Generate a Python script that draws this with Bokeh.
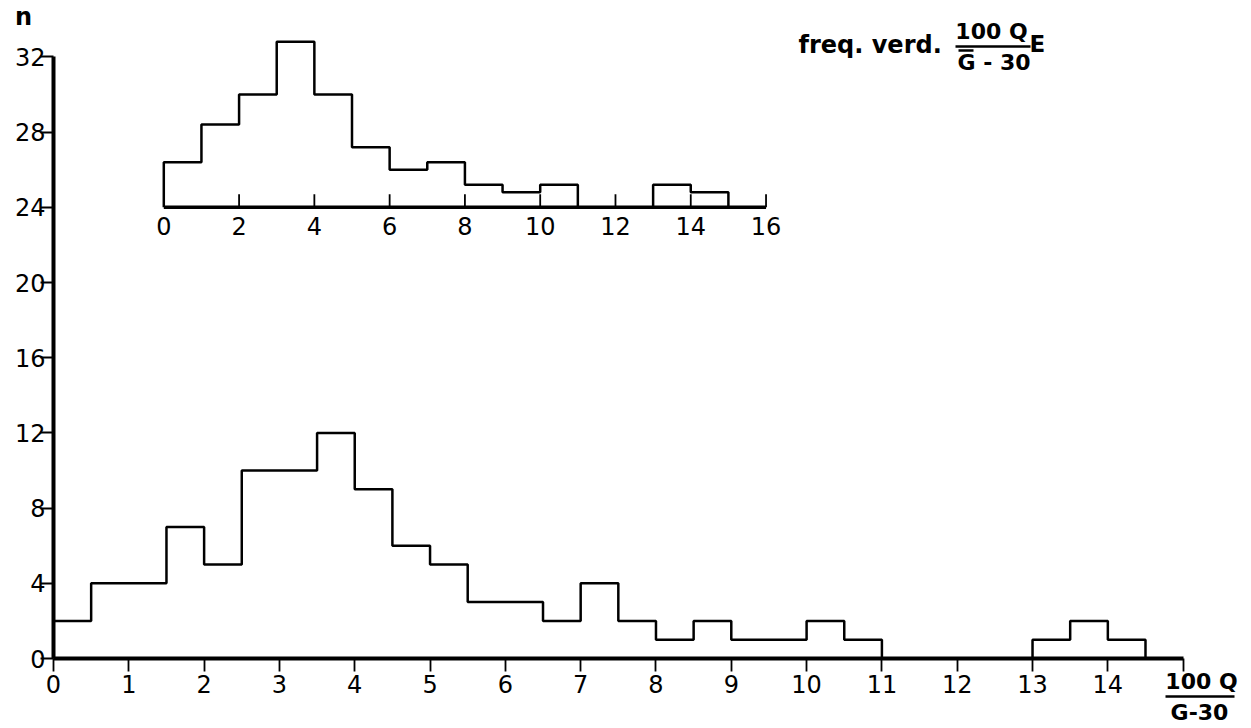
from bokeh.plotting import figure
from bokeh.models import Range1d, FixedTicker, LinearAxis
from bokeh.embed import file_html
from bokeh.resources import INLINE
from bokeh.core.properties import value

# ---- data ----
bin_width = 0.5
main_counts = [2, 4, 4, 7, 5, 10, 10, 12, 9, 6, 5, 3, 3, 2, 4, 2, 1, 2, 1, 1, 2, 1,
               0, 0, 0, 0, 1, 2, 1]
main_xticks = list(range(0, 16))
main_yticks = [0, 4, 8, 12, 16, 20, 24, 28, 32]

inset_base = 24
inset_bin_width = 1
inset_tops = [26.4, 28.4, 30.0, 32.8, 30.0, 27.2, 26.0, 26.4, 25.2, 24.8, 25.2,
              24.0, 24.0, 25.2, 24.8]
inset_xticks = [0, 2, 4, 6, 8, 10, 12, 14, 16]
inset_tick_labels = [str(t) for t in inset_xticks]

FONT = "DejaVu Sans"

# px geometry helpers
LEFT, BOTTOM, TOP, RIGHT = 53, 658, 10, 1241
PX_X = 75.31
PX_Y = 18.8
W, H = 1251, 728

def dx(px):
    return (px - LEFT) / PX_X

def dy(py):
    return (BOTTOM - py) / PX_Y

p = figure(width=W, height=H, output_backend="svg", toolbar_location=None,
           x_range=Range1d(0, (RIGHT - LEFT) / PX_X),
           y_range=Range1d(0, (BOTTOM - TOP) / PX_Y),
           min_border_left=LEFT, min_border_right=W - RIGHT,
           min_border_top=TOP, min_border_bottom=H - BOTTOM,
           x_axis_location=None, y_axis_location=None)
p.outline_line_color = None
p.grid.visible = False
p.background_fill_color = "white"
p.border_fill_color = "white"

# inset range
IN_PX0, IN_PX_UNIT = 163.3, 37.64
p.extra_x_ranges = {"inset": Range1d(-(IN_PX0 - LEFT) / IN_PX_UNIT,
                                     (RIGHT - IN_PX0) / IN_PX_UNIT)}

# main axes
xaxis = LinearAxis(ticker=FixedTicker(ticks=main_xticks), bounds=(0, 15))
xaxis.major_label_overrides = {15: ""}
yaxis = LinearAxis(ticker=FixedTicker(ticks=main_yticks), bounds=(0, 32))
for ax in (xaxis, yaxis):
    ax.axis_line_width = 4
    ax.axis_line_color = "black"
    ax.major_tick_in = 0
    ax.major_tick_out = 13
    ax.major_tick_line_width = 1.8
    ax.major_tick_line_color = "black"
    ax.minor_tick_line_color = None
    ax.major_label_text_font = FONT
    ax.major_label_text_font_size = "24px"
    ax.major_label_text_color = "black"
xaxis.major_label_standoff = 3
yaxis.major_label_standoff = -5
p.add_layout(xaxis, "below")
p.add_layout(yaxis, "left")

# main histogram outline (step)
edges = [i * bin_width for i in range(len(main_counts) + 1)]
sx = [0] + edges
sy = [0] + main_counts + [0]
p.step(x=sx, y=sy, mode="after", line_color="black", line_width=2.5)

# inset histogram
in_edges = [i * inset_bin_width for i in range(len(inset_tops) + 1)]
isx = [0] + in_edges
isy = [inset_base] + inset_tops + [inset_base]
p.step(x=isx, y=isy, mode="after", line_color="black", line_width=2.5,
       x_range_name="inset")

# inset axis line and ticks
p.segment(x0=[inset_xticks[0]], y0=[inset_base], x1=[inset_xticks[-1]], y1=[inset_base],
          line_color="black", line_width=3.5, x_range_name="inset")
tick_len = 13 / PX_Y
p.segment(x0=inset_xticks[1:], y0=[inset_base] * (len(inset_xticks) - 1),
          x1=inset_xticks[1:], y1=[inset_base + tick_len] * (len(inset_xticks) - 1),
          line_color="black", line_width=1.8, x_range_name="inset")
p.text(x=inset_xticks, y=[inset_base] * len(inset_xticks), text=inset_tick_labels,
       x_range_name="inset", text_align="center", text_baseline="top", y_offset=10,
       text_font=value(FONT), text_font_size="24px", text_color="black")

# texts (overlay level so they are not clipped to the frame)
def lab(txt, px, py, size="22px", style="normal", align="center"):
    r = p.text(x=[dx(px)], y=[dy(py)], text=[txt], text_font=value(FONT),
               text_font_size=size, text_font_style=style,
               text_align=align, text_baseline="middle", text_color="black")
    r.level = "overlay"

lab("n", 23, 16, size="24px", style="bold")
lab("freq. verd.", 798, 44, size="24px", style="bold", align="left")
lab("100 Q", 991, 31, size="22px", style="bold")
lab("G - 30", 957, 62, size="22px", style="bold", align="left")
lab("E", 1029, 43, size="23px", style="bold", align="left")
lab("100 Q", 1201, 681, size="22px", style="bold")
lab("G-30", 1199, 712, size="22px", style="bold")

# fraction bars and overline
fx0 = [dx(955), dx(958), dx(1165)]
fx1 = [dx(1030), dx(973), dx(1234)]
fy = [dy(46), dy(50), dy(696)]
r = p.segment(x0=fx0, y0=fy, x1=fx1, y1=fy, line_color="black", line_width=2.5)
r.level = "overlay"

open("out.html", "w").write(file_html(p, INLINE))
